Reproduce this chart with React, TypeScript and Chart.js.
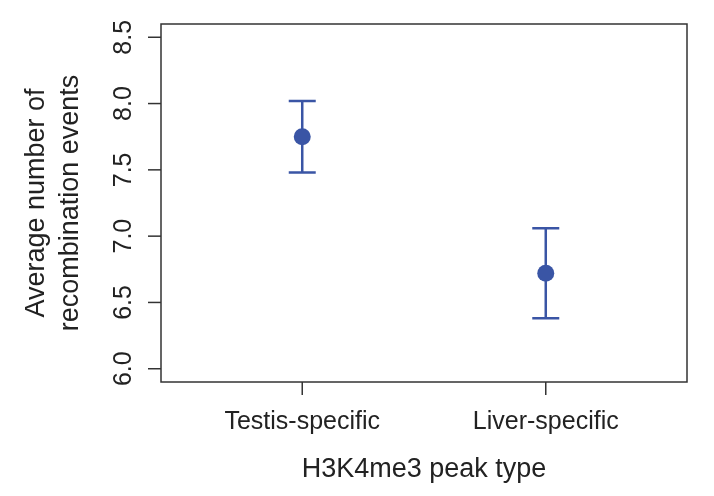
import React, { useEffect, useRef } from "react";
import { Chart, registerables } from "chart.js";

Chart.register(...registerables);

const categories = ["Testis-specific", "Liver-specific"];
const means = [7.75, 6.72];
const lower = [7.48, 6.38];
const upper = [8.02, 7.06];
const yTicks = [6.0, 6.5, 7.0, 7.5, 8.0, 8.5];
const yTickLabels = ["6.0", "6.5", "7.0", "7.5", "8.0", "8.5"];
const xTitle = "H3K4me3 peak type";
const yTitleLines = ["Average number of", "recombination events"];

const BLUE = "#3a55a5";
const AXIS = "#333333";
const TEXT = "#222222";
const FONT = '"Liberation Sans", Arial, Helvetica, sans-serif';

const decorPlugin = {
  id: "decor",
  beforeDatasetsDraw(chart: any) {
    const ctx = chart.ctx;
    const x = chart.scales.x;
    const y = chart.scales.y;
    ctx.save();
    ctx.strokeStyle = BLUE;
    ctx.lineWidth = 2.5;
    ctx.lineCap = "butt";
    categories.forEach((_, i) => {
      const px = x.getPixelForValue(i + 1);
      const pLo = y.getPixelForValue(lower[i]);
      const pHi = y.getPixelForValue(upper[i]);
      const half = 13.5;
      ctx.beginPath();
      ctx.moveTo(px, pLo);
      ctx.lineTo(px, pHi);
      ctx.moveTo(px - half, pHi);
      ctx.lineTo(px + half, pHi);
      ctx.moveTo(px - half, pLo);
      ctx.lineTo(px + half, pLo);
      ctx.stroke();
    });
    ctx.restore();
  },
  afterDraw(chart: any) {
    const ctx = chart.ctx;
    const area = chart.chartArea;
    const x = chart.scales.x;
    const y = chart.scales.y;
    ctx.save();
    // box
    ctx.strokeStyle = AXIS;
    ctx.lineWidth = 1.5;
    ctx.strokeRect(area.left, area.top, area.right - area.left, area.bottom - area.top);
    // y ticks
    ctx.fillStyle = TEXT;
    ctx.font = `25px ${FONT}`;
    yTicks.forEach((v, i) => {
      const py = y.getPixelForValue(v);
      ctx.beginPath();
      ctx.moveTo(area.left - 13, py);
      ctx.lineTo(area.left, py);
      ctx.stroke();
      ctx.save();
      ctx.translate(131, py);
      ctx.rotate(-Math.PI / 2);
      ctx.textAlign = "center";
      ctx.textBaseline = "alphabetic";
      ctx.fillText(yTickLabels[i], 0, 0);
      ctx.restore();
    });
    // x ticks
    categories.forEach((c, i) => {
      const px = x.getPixelForValue(i + 1);
      ctx.beginPath();
      ctx.moveTo(px, area.bottom);
      ctx.lineTo(px, area.bottom + 13);
      ctx.stroke();
      ctx.textAlign = "center";
      ctx.textBaseline = "alphabetic";
      ctx.fillText(c, px, 428.5);
    });
    // titles
    ctx.font = `27px ${FONT}`;
    ctx.textAlign = "center";
    ctx.textBaseline = "alphabetic";
    ctx.fillText(xTitle, (area.left + area.right) / 2, 477);
    const cy = (area.top + area.bottom) / 2;
    const baselines = [44, 78];
    yTitleLines.forEach((t, i) => {
      ctx.save();
      ctx.translate(baselines[i], cy);
      ctx.rotate(-Math.PI / 2);
      ctx.fillText(t, 0, 0);
      ctx.restore();
    });
    ctx.restore();
  },
};

export default function App() {
  const ref = useRef<HTMLCanvasElement | null>(null);
  useEffect(() => {
    if (!ref.current) return;
    const chart = new Chart(ref.current, {
      type: "scatter",
      data: {
        datasets: [
          {
            data: categories.map((_, i) => ({ x: i + 1, y: means[i] })),
            backgroundColor: BLUE,
            borderColor: BLUE,
            borderWidth: 0,
            pointRadius: 8.5,
            pointHoverRadius: 8.5,
          },
        ],
      },
      options: {
        responsive: false,
        animation: false,
        devicePixelRatio: 1,
        layout: { padding: { left: 161, right: 27, top: 24, bottom: 114 } },
        scales: {
          x: { type: "linear", min: 0.42, max: 2.58, display: false },
          y: { type: "linear", min: 5.9, max: 8.6, display: false },
        },
        plugins: { legend: { display: false }, tooltip: { enabled: false } },
      },
      plugins: [decorPlugin],
    });
    return () => chart.destroy();
  }, []);
  return (
    <div style={{ position: "fixed", left: 0, top: 0, width: 714, height: 496, background: "#fff" }}>
      <canvas ref={ref} width={714} height={496} />
    </div>
  );
}
